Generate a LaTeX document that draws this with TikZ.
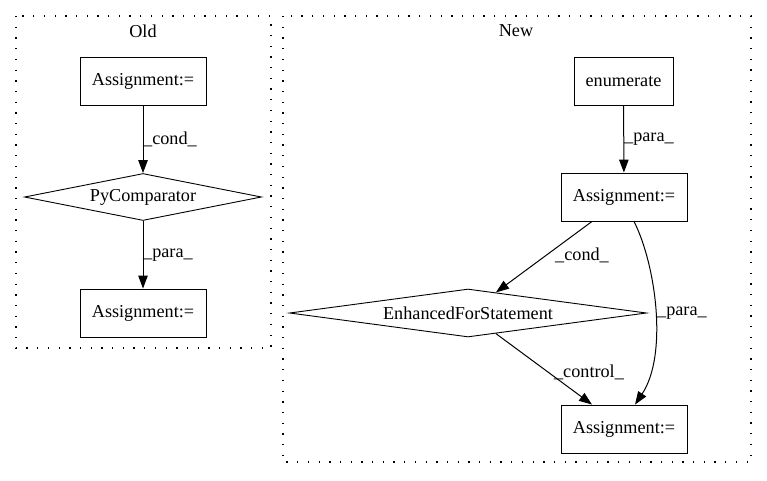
\documentclass[tikz,border=0pt]{standalone}
\usepackage{fontspec}
\setmainfont{Liberation Serif}
\usetikzlibrary{shapes.geometric,arrows.meta}
\begin{document}
\begin{tikzpicture}[x=1pt,y=-1pt,
  every node/.style={font=\fontsize{18.2}{21}\selectfont},
  box/.style={draw,line width=0.9pt,rectangle,minimum width=126pt,minimum height=48pt,inner sep=0pt},
  dia/.style={draw,line width=0.9pt,diamond,aspect=6,inner sep=0pt},
  edge/.style={line width=1pt,-{Triangle[length=13pt,width=9.5pt]}},
  lbl/.style={anchor=west,inner sep=0pt},
  clus/.style={line width=1.2pt,dash pattern=on 1.3pt off 9.4pt}]
\useasboundingbox (0,0) rectangle (767,480);
% clusters
\draw[clus] (16,16) rectangle (271,348);
\draw[clus] (283,16) rectangle (751,462);
\node (told) at (143,31) {Old};
\node (tnew) at (516,31) {New};
% Old
\node[box] (o1) at (143,81) {Assignment:=};
\node[dia,minimum width=237pt,minimum height=47pt] (pc) at (143,197) {PyComparator};
\node[box] (o2) at (143,313) {Assignment:=};
\draw[edge] (o1) -- (pc);
\draw[edge] (pc) -- (o2);
\node[lbl] (lc1) at (143,139) {\_cond\_};
\node[lbl] (lp1) at (143,255) {\_para\_};
% New
\node[box,minimum width=99pt] (en) at (623.5,81) {enumerate};
\node[box] (a2) at (624,197) {Assignment:=};
\node[dia,minimum width=357pt,minimum height=48pt] (efs) at (468,313) {EnhancedForStatement};
\node[box] (a3) at (624,429) {Assignment:=};
\draw[edge] (en) -- (a2);
\node[lbl] (lp2) at (624,139) {\_para\_};
\draw[edge] ([xshift=-32pt]a2.south) -- (efs);
\node (lc2) at (582,255) {\_cond\_};
\draw[edge] ([xshift=10pt]a2.south) .. controls (656,265) and (668,355) .. ([xshift=11pt]a3.north);
\node[lbl] (lp3) at (657,313) {\_para\_};
\draw[edge] (efs) -- ([xshift=-32pt]a3.north);
\node (lct) at (589,372) {\_control\_};
\end{tikzpicture}
\end{document}
